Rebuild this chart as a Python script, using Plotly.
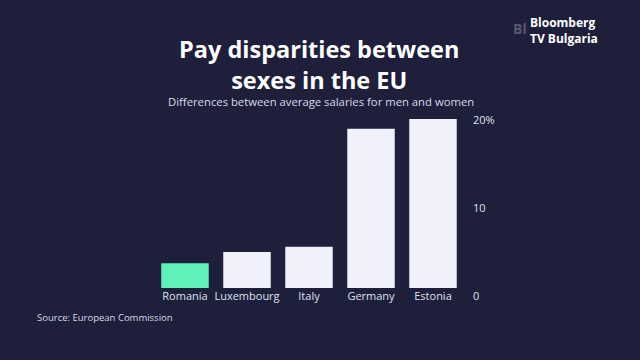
import plotly.graph_objects as go

countries = ["Romania", "Luxembourg", "Italy", "Germany", "Estonia"]
gap_pct = [2.8, 4.1, 4.7, 18.1, 19.2]
bar_colors = ["#5ff2b8", "#f0f1fb", "#f0f1fb", "#f0f1fb", "#f0f1fb"]
tick_vals = [0, 10, 20]
tick_text = ["0", "10", "20%"]

BG = "#1e1f3b"
FONT = "Open Sans"
W0, H0 = 154, 288   # plot left, plot bottom in px
PW, PH = 310, 176


def px(x):
    return (x - W0) / PW


def py(y):
    return (H0 - y) / PH


fig = go.Figure(go.Bar(
    x=countries, y=gap_pct, marker=dict(color=bar_colors, line=dict(width=0)),
))

fig.update_layout(
    width=640, height=360, autosize=False,
    margin=dict(l=154, r=176, t=112, b=72),
    paper_bgcolor=BG, plot_bgcolor=BG,
    bargap=0.234, showlegend=False,
    font=dict(family=FONT, color="#dfe1ee"),
    xaxis=dict(showgrid=False, zeroline=False, showline=False, ticks="",
               tickfont=dict(size=11, color="#dfe1ee", family=FONT)),
    yaxis=dict(side="right", range=[0, 20], showgrid=False, zeroline=False,
               showline=False, ticks="", tickvals=tick_vals, ticktext=tick_text,
               ticklabelshift=8, ticklabelstandoff=8,
               tickfont=dict(size=11, color="#dfe1ee", family=FONT)),
)

fig.add_annotation(text="<b>Pay disparities between<br>sexes in the EU</b>",
                   xref="paper", yref="paper", xanchor="center", yanchor="middle",
                   x=px(319), y=py(64), showarrow=False, align="center",
                   font=dict(size=23.5, color="#ffffff", family=FONT))
fig.add_annotation(text="Differences between average salaries for men and women",
                   xref="paper", yref="paper", xanchor="center", yanchor="middle",
                   x=px(321), y=py(101), showarrow=False,
                   font=dict(size=11.3, color="#d8dae8", family=FONT))
fig.add_annotation(text="Source: European Commission",
                   xref="paper", yref="paper", xanchor="left", yanchor="middle",
                   x=px(35), y=py(317), showarrow=False,
                   font=dict(size=9.5, color="#d8dae8", family=FONT))
fig.add_annotation(text="<b>Bl</b>",
                   xref="paper", yref="paper", xanchor="right", yanchor="middle",
                   x=px(529), y=py(28), showarrow=False,
                   font=dict(size=14, color="#55576f", family=FONT))
fig.add_annotation(text="<b>Bloomberg<br>TV Bulgaria</b>",
                   xref="paper", yref="paper", xanchor="left", yanchor="middle",
                   x=px(528), y=py(30), showarrow=False, align="left",
                   font=dict(size=12, color="#ffffff", family=FONT))

fig.write_html("out.html", config={"displayModeBar": False},
               post_script="document.body.style.margin='0';")
